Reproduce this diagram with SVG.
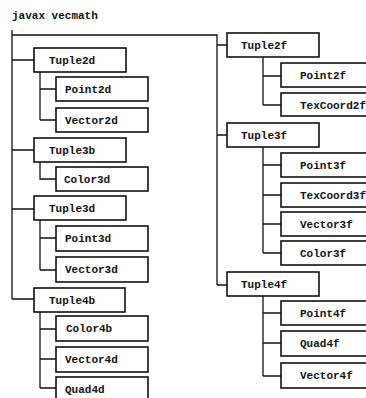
<svg xmlns="http://www.w3.org/2000/svg" width="366" height="398" viewBox="0 0 366 398">
<style>
.box{fill:#fff;stroke:#111;stroke-width:1.6}
.lbl{font-family:"Liberation Mono","DejaVu Sans Mono",monospace;font-weight:bold;font-size:11px;fill:#111}
.ln{fill:none;stroke:#111;stroke-width:1.3}
</style>
<rect width="366" height="398" fill="#fff"/>
<text class="lbl" x="12" y="19">javax vecmath</text>
<g id="connectors">
<path class="ln" d="M12,30V299M12,35H217V285"/>
<path class="ln" d="M12,60H34M12,150H34M12,209H34M12,299H34"/>
<path class="ln" d="M40,72V120M40,89H56M40,120H56"/>
<path class="ln" d="M40,162V179H56"/>
<path class="ln" d="M40,220V270M40,238H56M40,270H56"/>
<path class="ln" d="M40,312V388M40,329H56M40,359H56M40,388H56"/>
<path class="ln" d="M217,45H227M217,135H227M217,285H227"/>
<path class="ln" d="M263,57V105M263,76H281M263,105H281"/>
<path class="ln" d="M263,147V253M263,165H281M263,195H281M263,224H281M263,253H281"/>
<path class="ln" d="M263,295V376M263,313H281M263,343H281M263,376H281"/>
</g>
<g id="Tuple2d"><rect class="box" x="34" y="48" width="92" height="24"/><text class="lbl" x="49" y="64">Tuple2d</text></g>
<g id="Point2d"><rect class="box" x="56" y="77" width="92" height="24"/><text class="lbl" x="65" y="93">Point2d</text></g>
<g id="Vector2d"><rect class="box" x="56" y="108" width="92" height="24"/><text class="lbl" x="65" y="124">Vector2d</text></g>
<g id="Tuple3b"><rect class="box" x="34" y="138" width="92" height="24"/><text class="lbl" x="49" y="154">Tuple3b</text></g>
<g id="Color3d"><rect class="box" x="56" y="167" width="92" height="24"/><text class="lbl" x="64" y="183">Color3d</text></g>
<g id="Tuple3d"><rect class="box" x="34" y="196" width="92" height="24"/><text class="lbl" x="49" y="212">Tuple3d</text></g>
<g id="Point3d"><rect class="box" x="56" y="226" width="92" height="25"/><text class="lbl" x="65" y="242">Point3d</text></g>
<g id="Vector3d"><rect class="box" x="56" y="257" width="92" height="25"/><text class="lbl" x="65" y="273">Vector3d</text></g>
<g id="Tuple4b"><rect class="box" x="34" y="288" width="91" height="24"/><text class="lbl" x="49" y="304">Tuple4b</text></g>
<g id="Color4b"><rect class="box" x="56" y="316" width="92" height="25"/><text class="lbl" x="66" y="332">Color4b</text></g>
<g id="Vector4d"><rect class="box" x="56" y="347" width="92" height="25"/><text class="lbl" x="65" y="363">Vector4d</text></g>
<g id="Quad4d"><rect class="box" x="56" y="377" width="92" height="25"/><text class="lbl" x="65" y="393">Quad4d</text></g>
<g id="Tuple2f"><rect class="box" x="227" y="33" width="92" height="24"/><text class="lbl" x="241" y="49">Tuple2f</text></g>
<g id="Point2f"><rect class="box" x="281" y="63" width="100" height="24"/><text class="lbl" x="300" y="79">Point2f</text></g>
<g id="TexCoord2f"><rect class="box" x="281" y="93" width="100" height="23"/><text class="lbl" x="300" y="109">TexCoord2f</text></g>
<g id="Tuple3f"><rect class="box" x="227" y="123" width="92" height="24"/><text class="lbl" x="241" y="139">Tuple3f</text></g>
<g id="Point3f"><rect class="box" x="281" y="153" width="100" height="24"/><text class="lbl" x="300" y="169">Point3f</text></g>
<g id="TexCoord3f"><rect class="box" x="281" y="183" width="100" height="24"/><text class="lbl" x="300" y="199">TexCoord3f</text></g>
<g id="Vector3f"><rect class="box" x="281" y="212" width="100" height="24"/><text class="lbl" x="300" y="228">Vector3f</text></g>
<g id="Color3f"><rect class="box" x="281" y="241" width="100" height="24"/><text class="lbl" x="300" y="257">Color3f</text></g>
<g id="Tuple4f"><rect class="box" x="227" y="272" width="92" height="24"/><text class="lbl" x="241" y="288">Tuple4f</text></g>
<g id="Point4f"><rect class="box" x="281" y="301" width="100" height="24"/><text class="lbl" x="300" y="317">Point4f</text></g>
<g id="Quad4f"><rect class="box" x="281" y="331" width="100" height="25"/><text class="lbl" x="300" y="347">Quad4f</text></g>
<g id="Vector4f"><rect class="box" x="281" y="363" width="100" height="25"/><text class="lbl" x="300" y="379">Vector4f</text></g>
</svg>
